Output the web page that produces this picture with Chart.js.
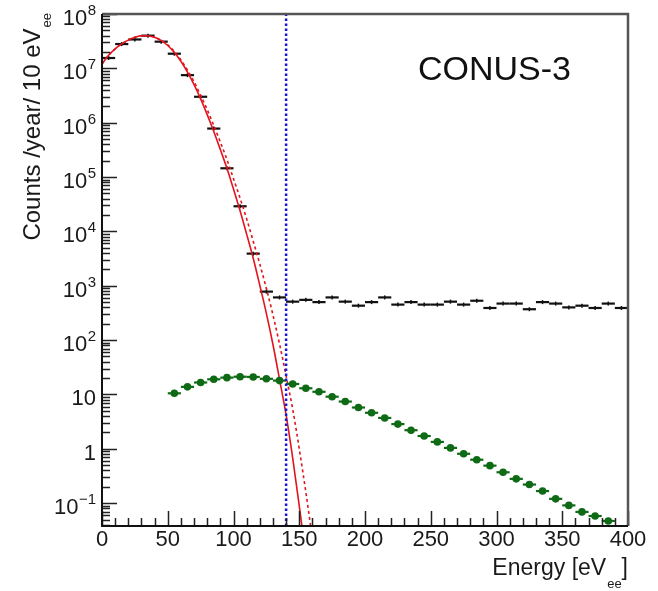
<!DOCTYPE html>
<html>
<head>
<meta charset="utf-8">
<script src="https://cdn.jsdelivr.net/npm/chart.js@4.4.1/dist/chart.umd.min.js"></script>
<style>
  html, body { margin: 0; padding: 0; background: #fff; }
  #wrap { width: 658px; height: 591px; }
</style>
</head>
<body>
<div id="wrap"><canvas id="spectrum" width="658" height="591"></canvas></div>
<script>
// values (counts / year / 10 eV)
const binCenters = [5, 15, 25, 35, 45, 55, 65, 75, 85, 95, 105, 115, 125, 135, 145, 155, 165, 175, 185, 195,
    205, 215, 225, 235, 245, 255, 265, 275, 285, 295, 305, 315, 325, 335, 345, 355, 365, 375, 385, 395];
const measuredCounts = [1.55e7, 2.8e7, 3.4e7, 4.0e7, 3.1e7, 1.86e7, 7.5e6, 3.0e6, 7.8e5, 1.45e5,
    2.9e4, 3.9e3, 780, 610, 510, 550, 500, 610, 510, 430,
    500, 610, 450, 500, 450, 450, 510, 450, 530, 390,
    470, 470, 370, 500, 470, 400, 430, 390, 470, 390];

const greenCenters = [55, 65, 75, 85, 95, 105, 115, 125, 135, 145, 155, 165, 175, 185, 195, 205, 215, 225, 235, 245,
    255, 265, 275, 285, 295, 305, 315, 325, 335, 345, 355, 365, 375, 385];
const greenCounts = [10.5, 13.8, 16.6, 19, 20.4, 21.2, 21, 19.4, 18, 15.6,
    13, 11.2, 9.1, 7.4, 5.75, 4.6, 3.7, 2.85, 2.2, 1.72,
    1.34, 1.04, 0.81, 0.63, 0.49, 0.37, 0.28, 0.22, 0.167, 0.12,
    0.091, 0.069, 0.058, 0.047];

const fitEnergy = [0, 5, 10, 15, 20, 25, 30, 35, 40, 45, 50, 55, 60, 65, 70, 75, 80, 85, 90, 95,
    100, 105, 110, 115, 120, 125, 130, 135, 140, 145, 150, 155];
const fitSolid = [1.2e7, 1.74e7, 2.29e7, 2.82e7, 3.31e7, 3.72e7, 3.98e7, 3.98e7, 3.72e7, 3.24e7,
    2.63e7, 1.95e7, 1.35e7, 8.5e6, 5.0e6, 2.75e6, 1.41e6, 6.9e5, 3.2e5, 1.45e5,
    6.0e4, 2.4e4, 8.9e3, 3.2e3, 1020, 310, 83, 19, 4.2, 0.68, 0.089, 0.011];

const dashedEnergy = [0, 5, 10, 15, 20, 25, 30, 35, 40, 45, 50, 55, 60, 65, 70, 75, 80, 85, 90, 95,
    100, 105, 110, 115, 120, 125, 130, 135, 140, 145, 150, 155, 160];
const fitDashed = [1.2e7, 1.74e7, 2.29e7, 2.82e7, 3.31e7, 3.72e7, 3.98e7, 3.99e7, 3.73e7, 3.29e7,
    2.71e7, 2.04e7, 1.43e7, 9.3e6, 5.7e6, 3.2e6, 1.74e6, 8.9e5, 4.4e5, 2.1e5,
    9.3e4, 4.1e4, 1.7e4, 6.6e3, 2.5e3, 890, 290, 85, 22, 5.4, 1.0, 0.16, 0.022];

const thresholdEnergy = 140;
const binHalfWidth = 5;

const xMin = 0, xMax = 400;
const yMin = 0.038, yMax = 1e8;
const xTickValues = [0, 50, 100, 150, 200, 250, 300, 350, 400];
const yTickValues = [0.1, 1, 10, 100, 1e3, 1e4, 1e5, 1e6, 1e7, 1e8];
const yTickBase = ['10', '1', '10', '10', '10', '10', '10', '10', '10', '10'];
const yTickExp = ['\u22121', '', '', '2', '3', '4', '5', '6', '7', '8'];

const FONT = '"Liberation Sans", Arial, Helvetica, sans-serif';

// horizontal (bin width) error bars
const errorBars = {
    id: "errorBars",
    beforeDatasetDraw(chart, args) {
        const ds = chart.data.datasets[args.index];
        if (!ds.xErr) return;
        const { ctx, chartArea: a, scales: { x, y } } = chart;
        ctx.save();
        ctx.beginPath();
        ctx.rect(a.left, a.top, a.right - a.left, a.bottom - a.top);
        ctx.clip();
        ctx.strokeStyle = ds.borderColor;
        ctx.lineWidth = ds.errWidth;
        ds.data.forEach(p => {
            const py = y.getPixelForValue(p.y);
            ctx.beginPath();
            ctx.moveTo(x.getPixelForValue(p.x - ds.xErr), py);
            ctx.lineTo(x.getPixelForValue(p.x + ds.xErr), py);
            ctx.stroke();
        });
        ctx.restore();
    }
};

// ROOT style frame, inward ticks, labels and titles
const frame = {
    id: "frame",
    afterDraw(chart) {
        const { ctx, chartArea: a, scales: { x, y } } = chart;
        ctx.save();

        // ticks
        ctx.strokeStyle = "#222";
        ctx.lineWidth = 1.5;
        ctx.beginPath();
        for (let v = xMin; v <= xMax; v += 10) {
            const px = Math.round(x.getPixelForValue(v)) + 0.5;
            const len = v % 50 === 0 ? 15 : 8;
            ctx.moveTo(px, a.bottom);
            ctx.lineTo(px, a.bottom - len);
        }
        for (let k = -2; k <= 8; k++) {
            for (let m = 1; m <= 9; m++) {
                const v = m * Math.pow(10, k);
                if (v < yMin || v > yMax * 1.0001) continue;
                const py = Math.round(y.getPixelForValue(v)) + 0.5;
                const len = m === 1 ? 15 : 8;
                ctx.moveTo(a.left, py);
                ctx.lineTo(a.left + len, py);
            }
        }
        ctx.stroke();

        // frame
        ctx.strokeStyle = "#555";
        ctx.lineWidth = 2.5;
        ctx.beginPath();
        ctx.moveTo(a.left, a.top);
        ctx.lineTo(a.right, a.top);
        ctx.lineTo(a.right, a.bottom);
        ctx.stroke();
        ctx.strokeStyle = "#111";
        ctx.lineWidth = 2;
        ctx.beginPath();
        ctx.moveTo(a.left, a.top);
        ctx.lineTo(a.left, a.bottom);
        ctx.lineTo(a.right, a.bottom);
        ctx.stroke();

        ctx.fillStyle = "#1a1a1a";

        // x tick labels
        ctx.font = "22px " + FONT;
        ctx.textAlign = "center";
        ctx.textBaseline = "top";
        xTickValues.forEach(v => {
            ctx.fillText(String(v), x.getPixelForValue(v), a.bottom + 3);
        });

        // y tick labels
        const right = a.left - 6;
        yTickValues.forEach((v, i) => {
            const py = y.getPixelForValue(v);
            let edge = right;
            ctx.textAlign = "right";
            ctx.textBaseline = "alphabetic";
            if (yTickExp[i]) {
                ctx.font = "15px " + FONT;
                ctx.fillText(yTickExp[i], edge, py + 1);
                edge -= ctx.measureText(yTickExp[i]).width + 0.5;
            }
            ctx.font = "22px " + FONT;
            ctx.fillText(yTickBase[i], edge, py + 11);
        });

        // x title
        ctx.textBaseline = "alphabetic";
        ctx.textAlign = "left";
        const xMain = "Energy [eV", xSub = "ee", xEnd = "]";
        ctx.font = "23px " + FONT;
        const wMain = ctx.measureText(xMain).width;
        const wEnd = ctx.measureText(xEnd).width;
        ctx.font = "13px " + FONT;
        const wSub = ctx.measureText(xSub).width;
        let sx = a.right - wEnd - wSub - wMain - 1;
        ctx.font = "23px " + FONT;
        ctx.fillText(xMain, sx, 575);
        ctx.font = "13px " + FONT;
        ctx.fillText(xSub, sx + wMain + 1, 588);
        ctx.font = "23px " + FONT;
        ctx.fillText(xEnd, sx + wMain + wSub + 1, 575);

        // y title (rotated)
        ctx.save();
        ctx.translate(40, 0);
        ctx.rotate(-Math.PI / 2);
        const yMainT = "Counts /year/ 10 eV", ySubT = "ee";
        ctx.font = "24px " + FONT;
        const wy = ctx.measureText(yMainT).width;
        ctx.font = "13px " + FONT;
        const wys = ctx.measureText(ySubT).width;
        const end = -(a.top - 1);
        const start = end - wys - wy - 1;
        ctx.font = "24px " + FONT;
        ctx.fillText(yMainT, start, 0);
        ctx.font = "13px " + FONT;
        ctx.fillText(ySubT, start + wy + 1, 11);
        ctx.restore();

        // label
        ctx.fillStyle = "#111";
        ctx.font = "34px " + FONT;
        ctx.textAlign = "left";
        ctx.fillText("CONUS-3", a.left + 316, 80);

        ctx.restore();
    }
};

const toPoints = (xs, ys) => xs.map((v, i) => ({ x: v, y: ys[i] }));

new Chart(document.getElementById("spectrum"), {
    type: "scatter",
    data: {
        datasets: [
            {
                // analysis threshold
                data: [{ x: thresholdEnergy, y: yMin }, { x: thresholdEnergy, y: yMax }],
                showLine: true,
                borderColor: "#1616d8",
                borderWidth: 2.5,
                borderDash: [2.5, 2.5],
                pointRadius: 0,
                order: 0
            },
            {
                data: toPoints(greenCenters, greenCounts),
                borderColor: "#0e6a14",
                backgroundColor: "#0e6a14",
                pointStyle: "circle",
                pointRadius: 3.8,
                borderWidth: 0,
                xErr: binHalfWidth,
                errWidth: 2.2,
                order: 1
            },
            {
                data: toPoints(fitEnergy, fitSolid),
                showLine: true,
                borderColor: "#e2141c",
                borderWidth: 1.6,
                pointRadius: 0,
                cubicInterpolationMode: "monotone",
                order: 2
            },
            {
                data: toPoints(dashedEnergy, fitDashed),
                showLine: true,
                borderColor: "#e2141c",
                borderWidth: 1.6,
                borderDash: [3, 3],
                pointRadius: 0,
                cubicInterpolationMode: "monotone",
                order: 3
            },
            {
                data: toPoints(binCenters, measuredCounts),
                borderColor: "#111",
                pointStyle: "line",
                rotation: 90,
                pointRadius: 2,
                borderWidth: 1.5,
                xErr: binHalfWidth,
                errWidth: 2.2,
                order: 4
            }
        ]
    },
    options: {
        responsive: false,
        animation: false,
        events: [],
        layout: { padding: { left: 0, right: 30, top: 14, bottom: 0 } },
        plugins: {
            legend: { display: false },
            title: { display: false },
            tooltip: { enabled: false }
        },
        scales: {
            x: {
                type: "linear",
                min: xMin,
                max: xMax,
                ticks: { display: false },
                grid: { display: false },
                border: { display: false },
                afterFit: s => { s.height = 65; }
            },
            y: {
                type: "logarithmic",
                min: yMin,
                max: yMax,
                ticks: { display: false },
                grid: { display: false },
                border: { display: false },
                afterFit: s => { s.width = 102; }
            }
        }
    },
    plugins: [errorBars, frame]
});
</script>
</body>
</html>
